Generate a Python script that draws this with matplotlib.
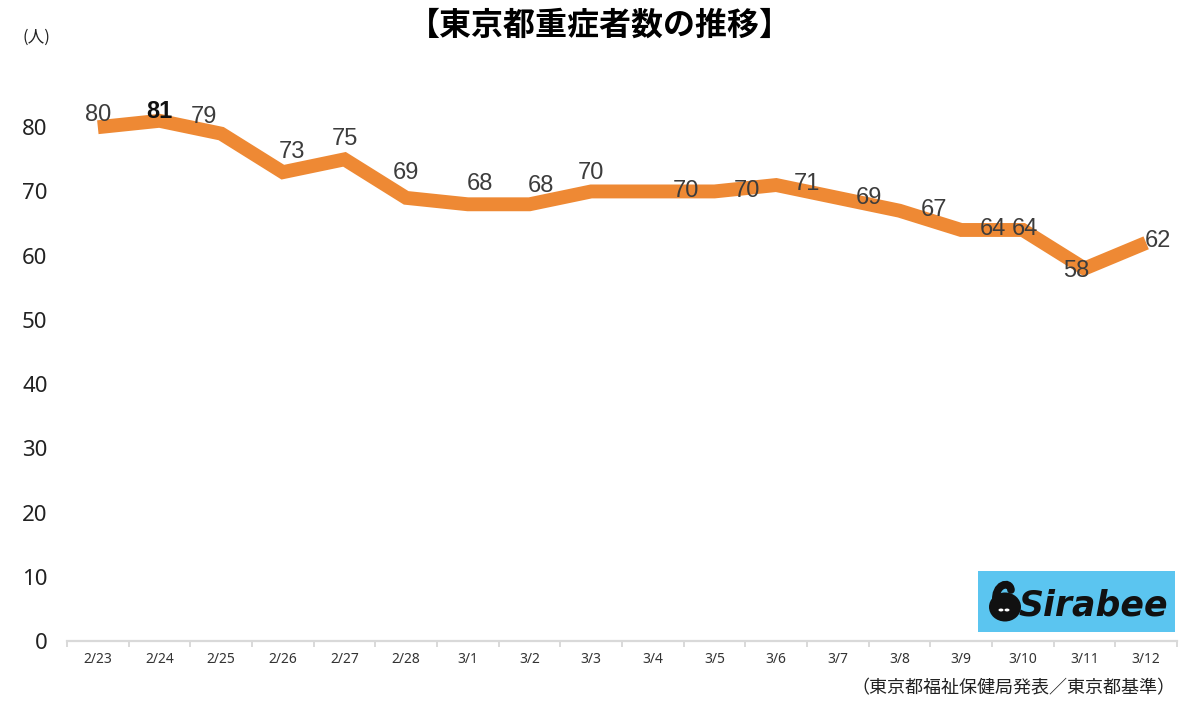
import matplotlib
matplotlib.use("Agg")
import matplotlib.pyplot as plt
from matplotlib.patches import Rectangle, Circle, Ellipse, PathPatch
from matplotlib.path import Path
import numpy as np

plt.rcParams['font.family'] = ['Noto Sans CJK JP', 'DejaVu Sans']

dates = ["2/23", "2/24", "2/25", "2/26", "2/27", "2/28", "3/1", "3/2", "3/3",
         "3/4", "3/5", "3/6", "3/7", "3/8", "3/9", "3/10", "3/11", "3/12"]
severe = [80, 81, 79, 73, 75, 69, 68, 68, 70, 70, 70, 71, 69, 67, 64, 64, 58, 62]

# label offsets in pixels (annotation placement only)
label_dx = [0, 0, -17, 9, 0, 0, 12, 11, 0, 33, 32, 31, 31, 34, 32, 2, -8, 12]
label_dy = [12, 9, 17, 20, 20, 25, 20, 18, 18, 0, 0, 1, 0, 1, 1, 1, -2, 2]

W, H = 1200, 709
fig = plt.figure(figsize=(W / 100, H / 100), dpi=100)
ax = fig.add_axes([67 / W, (H - 641) / H, (1177 - 67) / W, (641 - 63) / H])

x = np.arange(len(dates))
ax.plot(x, severe, color='#EE8934', linewidth=10, solid_joinstyle='miter', solid_capstyle='butt')

ax.set_xlim(-0.5, len(dates) - 0.5)
ax.set_ylim(0, 90)

for i, v in enumerate(severe):
    bold = (i == 1)
    ax.annotate(str(v), (x[i], v), xytext=(label_dx[i] * 0.72, label_dy[i] * 0.72),
                textcoords='offset points', ha='center', va='center',
                fontsize=17, color='#111111' if bold else '#3C3C3C',
                fontweight='bold' if bold else 'normal', family='Liberation Sans')

for s in ['top', 'right', 'left']:
    ax.spines[s].set_visible(False)
ax.spines['bottom'].set_color('#D9D9D9')
ax.spines['bottom'].set_linewidth(1.6)

ax.set_yticks(range(0, 81, 10))
ax.set_yticklabels([str(t) for t in range(0, 81, 10)], fontsize=16, color='#222222')
ax.tick_params(axis='y', length=0, pad=14)
for lab in ax.get_yticklabels():
    lab.set_family('Noto Sans')

ax.set_xticks(x)
ax.set_xticklabels(dates, fontsize=10, color='#333333')
for lab in ax.get_xticklabels():
    lab.set_family('Noto Sans')
ax.tick_params(axis='x', which='major', length=0, pad=8)
ax.set_xticks(np.arange(-0.5, len(dates), 1.0), minor=True)
ax.tick_params(axis='x', which='minor', length=4, width=1.4, color='#D9D9D9', direction='out')

fig.text(600 / W, 1 - 26 / H, "【東京都重症者数の推移】", ha='center', va='center',
         fontsize=23, fontweight='bold', color='#000000')
fig.text(36 / W, 1 - 37 / H, "(人)", ha='center', va='center', fontsize=12, color='#222222')
fig.text(1175 / W, 1 - 688 / H, "（東京都福祉保健局発表／東京都基準）", ha='right', va='center',
         fontsize=13, color='#222222')

# logo
lx0, ly0, lx1, ly1 = 978, 571, 1175, 632
fig.patches.append(Rectangle((lx0 / W, 1 - ly1 / H), (lx1 - lx0) / W, (ly1 - ly0) / H,
                             transform=fig.transFigure, facecolor='#5BC5F0', edgecolor='none'))
fig.patches.append(Ellipse((1005 / W, 1 - 607 / H), 32 / W, 29 / H, transform=fig.transFigure,
                           facecolor='#111111', edgecolor='none'))
neck = Path([(996 / W, 1 - 602 / H), (994 / W, 1 - 584 / H), (1010 / W, 1 - 580 / H), (1011 / W, 1 - 590 / H)],
            [Path.MOVETO, Path.CURVE4, Path.CURVE4, Path.CURVE4])
fig.patches.append(PathPatch(neck, transform=fig.transFigure, facecolor='none',
                             edgecolor='#111111', linewidth=5.5, capstyle='round'))
fig.patches.append(Circle((1001 / W, 1 - 610 / H), 2.5 / W, transform=fig.transFigure,
                          facecolor='white', edgecolor='none'))
fig.patches.append(Circle((1007 / W, 1 - 610 / H), 2.5 / W, transform=fig.transFigure,
                          facecolor='white', edgecolor='none'))
fig.text(1093 / W, 1 - 606 / H, "Sirabee", ha='center', va='center', fontsize=25,
         fontweight='bold', fontstyle='italic', color='#111111', family='DejaVu Sans')

fig.savefig("out.png", dpi=100)
